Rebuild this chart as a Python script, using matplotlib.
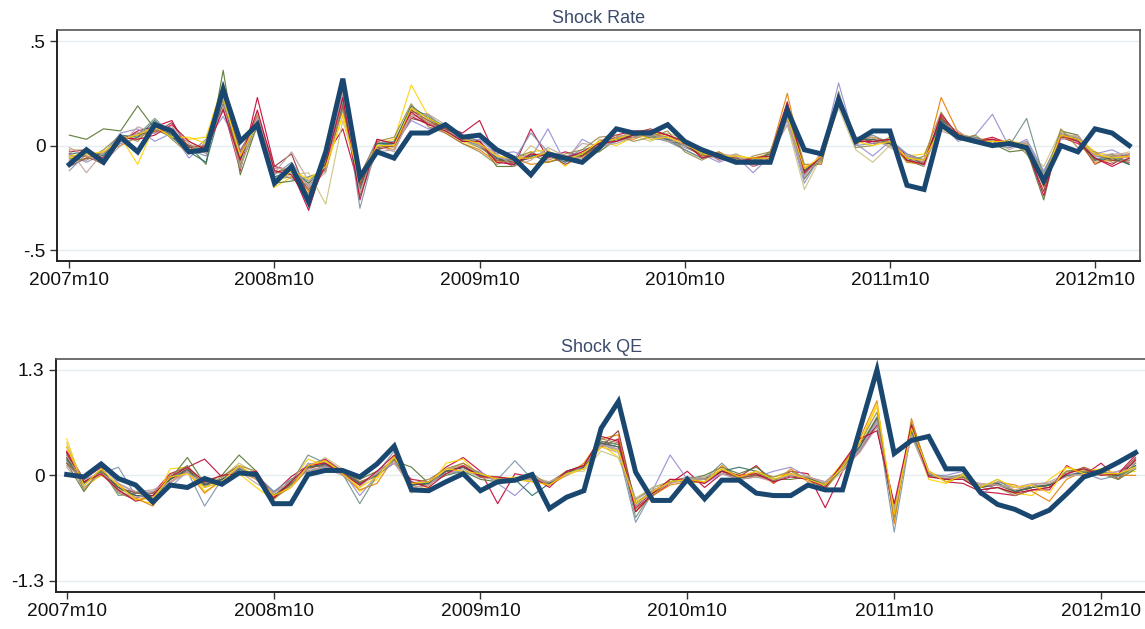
import numpy as np
import matplotlib
matplotlib.use("Agg")
import matplotlib.pyplot as plt

plt.rcParams['font.family'] = ['Liberation Sans', 'DejaVu Sans']

# monthly index, 2007m10 .. 2012m12
months = np.arange(63)
tick_pos = [0, 12, 24, 36, 48, 60]
tick_labels = ['2007m10', '2008m10', '2009m10', '2010m10', '2011m10', '2012m10']

# Stata s2color-like palette for the thin draws
thin_colors = ['#c10534', '#ffd200', '#55752f', '#e37e00', '#938dd2', '#cac27e',
               '#6e8e84', '#90353b', '#7b92a8', '#a0522d', '#2d6d66', '#bfa19c',
               '#9c8847', '#bfa19c', '#c10534', '#ffd200']

# ---- Shock Rate ----
rate_actual = [
    -0.09, -0.02, -0.08, 0.04, -0.03, 0.10, 0.07, -0.03, -0.02, 0.27,
    0.02, 0.10, -0.18, -0.10, -0.27, -0.03, 0.32, -0.15, -0.03, -0.06,
    0.06, 0.06, 0.10, 0.04, 0.05, -0.02, -0.06, -0.14, -0.04, -0.06,
    -0.08, -0.01, 0.08, 0.06, 0.06, 0.10, 0.02, -0.02, -0.05, -0.08,
    -0.08, -0.08, 0.17, -0.02, -0.04, 0.22, 0.02, 0.07, 0.07, -0.19,
    -0.21, 0.10, 0.04, 0.02, 0.00, 0.01, -0.01, -0.17, 0.00, -0.03,
    0.08, 0.06, 0.00]

rate_draws = [
    [-0.03, -0.02, -0.07, 0.02, 0.07, 0.09, 0.12, -0.03, 0.00, 0.18,
     -0.12, 0.23, -0.10, -0.12, -0.31, -0.05, 0.08, -0.21, 0.02, -0.01,
     0.14, 0.10, 0.09, 0.06, 0.12, -0.06, -0.10, 0.08, -0.06, -0.03,
     -0.05, 0.02, 0.05, 0.07, 0.07, 0.02, 0.01, -0.02, -0.07, -0.05,
     -0.10, -0.07, 0.17, -0.14, -0.04, 0.20, 0.03, 0.01, 0.03, -0.05,
     -0.07, 0.10, 0.06, 0.02, 0.04, 0.01, 0.00, -0.18, 0.04, 0.01,
     -0.06, -0.09, -0.04],
    [-0.06, -0.05, -0.04, 0.04, -0.09, 0.10, 0.05, 0.03, 0.04, 0.30,
     -0.06, 0.12, -0.20, -0.15, -0.18, -0.12, 0.15, -0.16, 0.01, 0.03,
     0.29, 0.14, 0.07, 0.02, -0.01, -0.05, -0.07, -0.03, -0.02, -0.10,
     -0.03, 0.02, 0.00, 0.04, 0.06, 0.05, 0.02, -0.03, -0.04, -0.06,
     -0.06, -0.05, 0.13, -0.10, -0.07, 0.23, 0.01, 0.03, 0.00, -0.05,
     -0.04, 0.11, 0.04, 0.02, 0.02, 0.02, 0.01, -0.14, 0.06, 0.04,
     -0.03, -0.05, -0.06],
    [0.05, 0.03, 0.08, 0.07, 0.19, 0.08, 0.04, 0.00, -0.09, 0.36,
     -0.14, 0.10, -0.18, -0.17, -0.15, -0.12, 0.20, -0.24, -0.02, 0.02,
     0.18, 0.13, 0.08, 0.05, 0.02, -0.10, -0.10, -0.04, -0.08, -0.06,
     -0.04, -0.03, 0.03, 0.05, 0.04, 0.03, -0.02, -0.06, -0.04, -0.08,
     -0.08, -0.03, 0.14, -0.16, -0.05, 0.24, 0.04, 0.02, 0.01, -0.07,
     -0.10, 0.13, 0.05, 0.04, 0.01, -0.03, -0.02, -0.26, 0.07, 0.05,
     -0.07, -0.04, -0.09],
    [-0.08, -0.06, -0.03, 0.00, 0.04, 0.07, 0.08, -0.02, 0.00, 0.25,
     -0.04, 0.15, -0.13, -0.10, -0.22, -0.08, 0.24, -0.19, 0.00, -0.02,
     0.17, 0.11, 0.06, 0.01, -0.02, -0.08, -0.06, -0.09, -0.08, -0.05,
     -0.06, 0.01, 0.04, 0.03, 0.06, 0.04, 0.00, -0.05, -0.03, -0.07,
     -0.06, -0.04, 0.25, -0.12, -0.08, 0.20, 0.02, 0.04, 0.02, -0.08,
     -0.09, 0.23, 0.06, 0.03, 0.03, 0.00, 0.01, -0.20, 0.04, 0.02,
     -0.08, -0.07, -0.05],
    [-0.04, -0.08, -0.04, 0.06, 0.08, 0.02, 0.06, -0.06, 0.02, 0.14,
     -0.02, 0.11, -0.12, -0.16, -0.19, -0.10, 0.18, -0.15, 0.03, 0.00,
     0.12, 0.08, 0.10, 0.02, 0.03, -0.04, -0.03, -0.06, 0.08, -0.08,
     0.03, -0.01, 0.02, 0.07, 0.03, 0.03, -0.01, -0.04, -0.08, -0.05,
     -0.13, -0.05, 0.12, -0.18, -0.04, 0.30, 0.01, -0.05, 0.02, -0.04,
     -0.07, 0.10, 0.02, 0.05, 0.15, -0.01, 0.03, -0.12, 0.03, 0.04,
     -0.04, -0.02, -0.06],
    [-0.02, -0.02, -0.06, 0.04, 0.03, 0.09, 0.05, 0.02, -0.03, 0.20,
     -0.08, 0.16, -0.15, -0.14, -0.13, -0.28, 0.12, -0.17, 0.01, -0.01,
     0.15, 0.12, 0.07, 0.04, 0.01, -0.05, -0.09, 0.00, -0.05, -0.07,
     -0.08, 0.03, 0.02, 0.05, 0.02, 0.06, 0.03, -0.03, -0.06, -0.04,
     -0.07, -0.04, 0.10, -0.21, -0.05, 0.18, -0.02, -0.08, 0.00, -0.06,
     -0.06, 0.08, 0.04, 0.01, 0.01, 0.02, -0.03, -0.10, 0.07, 0.02,
     -0.05, -0.05, -0.03],
    [-0.07, -0.03, -0.05, 0.02, 0.05, 0.13, 0.05, 0.00, -0.02, 0.22,
     -0.10, 0.12, -0.16, -0.13, -0.17, -0.10, 0.22, -0.20, 0.00, 0.01,
     0.18, 0.14, 0.09, 0.03, 0.00, -0.07, -0.07, -0.05, -0.03, -0.05,
     -0.04, 0.00, 0.02, 0.04, 0.05, 0.04, 0.00, -0.04, -0.05, -0.06,
     -0.08, -0.06, 0.15, -0.13, -0.07, 0.22, 0.02, 0.05, 0.01, -0.06,
     -0.08, 0.12, 0.05, 0.03, 0.02, 0.00, 0.13, -0.15, 0.06, 0.03,
     -0.05, -0.06, -0.07],
    [-0.10, -0.06, -0.07, 0.03, 0.06, 0.06, 0.11, -0.01, 0.00, 0.20,
     -0.05, 0.14, -0.10, -0.04, -0.25, -0.06, 0.28, -0.18, -0.02, 0.00,
     0.13, 0.11, 0.08, 0.02, 0.02, -0.06, -0.08, -0.06, -0.04, -0.09,
     -0.05, 0.01, 0.04, 0.06, 0.08, 0.05, 0.01, -0.04, -0.06, -0.07,
     -0.09, -0.06, 0.18, -0.11, -0.06, 0.21, 0.01, 0.03, 0.02, -0.07,
     -0.08, 0.14, 0.04, 0.02, 0.03, 0.01, -0.02, -0.22, 0.05, 0.03,
     -0.04, -0.07, -0.08],
    [-0.12, -0.04, -0.04, 0.01, 0.04, 0.10, 0.07, -0.02, -0.05, 0.23,
     -0.07, 0.13, -0.14, -0.08, -0.20, -0.09, 0.25, -0.30, 0.01, 0.02,
     0.16, 0.15, 0.07, 0.03, -0.01, -0.06, -0.07, 0.06, -0.03, -0.06,
     -0.02, 0.00, 0.03, 0.06, 0.04, 0.02, -0.02, -0.06, -0.05, -0.06,
     -0.07, -0.06, 0.14, -0.14, -0.05, 0.23, 0.00, 0.01, 0.03, -0.04,
     -0.07, 0.11, 0.03, 0.04, 0.00, -0.01, 0.02, -0.13, 0.05, 0.02,
     -0.06, -0.06, -0.04],
    [-0.05, -0.05, -0.09, 0.03, 0.05, 0.07, 0.06, 0.00, -0.01, 0.24,
     -0.03, 0.12, -0.13, -0.11, -0.21, -0.11, 0.19, -0.19, -0.01, 0.00,
     0.17, 0.12, 0.08, 0.04, 0.00, -0.07, -0.08, -0.05, -0.04, -0.07,
     -0.05, 0.00, 0.03, 0.04, 0.05, 0.04, 0.00, -0.05, -0.05, -0.06,
     -0.08, -0.05, 0.16, -0.12, -0.06, 0.21, 0.02, 0.02, 0.01, -0.06,
     -0.08, 0.13, 0.05, 0.03, 0.02, 0.00, 0.00, -0.16, 0.04, 0.03,
     -0.09, -0.05, -0.05],
    [-0.04, -0.03, -0.05, 0.05, 0.04, 0.12, 0.04, -0.03, -0.08, 0.21,
     -0.06, 0.12, -0.15, -0.12, -0.18, -0.09, 0.21, -0.21, 0.01, 0.01,
     0.19, 0.13, 0.09, 0.04, 0.01, -0.06, -0.09, -0.05, -0.04, -0.08,
     -0.04, 0.01, 0.03, 0.05, 0.05, 0.03, 0.00, -0.04, -0.05, -0.07,
     -0.07, -0.04, 0.15, -0.12, -0.06, 0.23, 0.03, 0.03, 0.01, -0.06,
     -0.09, 0.12, 0.05, 0.03, 0.02, 0.00, 0.00, -0.15, 0.05, 0.03,
     -0.07, -0.06, -0.09],
    [-0.02, -0.13, -0.03, 0.02, 0.06, 0.08, 0.06, -0.03, 0.01, 0.21,
     -0.04, 0.13, -0.13, -0.03, -0.17, -0.12, 0.22, -0.22, 0.00, -0.03,
     0.15, 0.11, 0.07, 0.04, 0.00, -0.05, -0.07, -0.04, -0.05, -0.06,
     0.01, 0.00, 0.01, 0.04, 0.05, 0.04, 0.00, -0.03, -0.04, -0.05,
     -0.10, -0.05, 0.10, -0.13, -0.06, 0.20, 0.02, 0.02, 0.00, -0.05,
     -0.08, 0.07, 0.04, 0.03, 0.02, 0.00, 0.01, -0.15, 0.06, 0.04,
     -0.05, -0.04, -0.04],
    [-0.06, -0.07, -0.02, 0.05, 0.02, 0.11, 0.03, -0.04, 0.03, 0.26,
     -0.09, 0.09, -0.16, -0.15, -0.23, -0.07, 0.17, -0.14, 0.02, 0.04,
     0.20, 0.09, 0.06, 0.01, -0.03, -0.09, -0.06, -0.03, -0.07, -0.04,
     -0.02, 0.04, 0.05, 0.02, 0.04, 0.07, -0.03, -0.07, -0.03, -0.09,
     -0.05, -0.03, 0.20, -0.09, -0.09, 0.26, -0.01, 0.00, 0.04, -0.08,
     -0.05, 0.16, 0.03, 0.05, -0.01, 0.03, -0.04, -0.18, 0.08, -0.01,
     -0.03, -0.08, -0.07],
    [-0.01, -0.05, -0.08, 0.00, 0.09, 0.06, 0.09, 0.01, -0.04, 0.19,
     -0.11, 0.14, -0.11, -0.11, -0.19, -0.13, 0.26, -0.23, -0.03, -0.02,
     0.14, 0.15, 0.10, 0.05, 0.01, -0.04, -0.10, -0.07, -0.01, -0.05,
     -0.06, -0.02, 0.04, 0.06, 0.06, 0.02, 0.02, -0.02, -0.07, -0.04,
     -0.09, -0.08, 0.13, -0.15, -0.03, 0.19, 0.04, 0.04, -0.01, -0.05,
     -0.10, 0.11, 0.07, 0.01, 0.03, -0.02, 0.02, -0.17, 0.03, 0.05,
     -0.05, -0.05, -0.06],
    [-0.08, -0.03, -0.06, 0.04, 0.03, 0.05, 0.10, 0.02, -0.02, 0.17,
     -0.07, 0.17, -0.12, -0.14, -0.27, -0.09, 0.23, -0.26, 0.03, 0.01,
     0.16, 0.10, 0.07, 0.02, 0.02, -0.08, -0.09, -0.04, -0.05, -0.06,
     -0.03, 0.01, 0.02, 0.05, 0.07, 0.05, 0.02, -0.06, -0.04, -0.08,
     -0.06, -0.05, 0.21, -0.13, -0.05, 0.24, 0.02, 0.02, 0.03, -0.07,
     -0.09, 0.15, 0.05, 0.02, 0.03, 0.01, -0.01, -0.24, 0.05, 0.02,
     -0.06, -0.10, -0.06],
    [-0.05, -0.04, -0.03, 0.03, 0.05, 0.09, 0.04, 0.04, 0.01, 0.23,
     -0.05, 0.11, -0.19, -0.12, -0.16, -0.10, 0.14, -0.17, 0.00, 0.00,
     0.18, 0.13, 0.09, 0.03, 0.01, -0.05, -0.06, -0.06, -0.03, -0.07,
     -0.04, 0.02, 0.03, 0.06, 0.03, 0.04, 0.01, -0.04, -0.05, -0.05,
     -0.06, -0.06, 0.14, -0.11, -0.05, 0.21, 0.02, 0.00, 0.02, -0.06,
     -0.07, 0.09, 0.03, 0.02, 0.02, 0.02, 0.00, -0.16, 0.05, 0.03,
     -0.04, -0.06, -0.05],
]

# ---- Shock QE ----
qe_actual = [
    0.01, -0.02, 0.14, -0.04, -0.12, -0.33, -0.12, -0.15, -0.04, -0.11,
    0.03, 0.01, -0.35, -0.35, 0.01, 0.06, 0.06, -0.02, 0.14, 0.36,
    -0.18, -0.19, -0.08, 0.02, -0.19, -0.08, -0.06, 0.01, -0.41, -0.27,
    -0.19, 0.58, 0.91, 0.04, -0.31, -0.31, -0.05, -0.29, -0.06, -0.06,
    -0.22, -0.25, -0.25, -0.12, -0.18, -0.18, 0.56, 1.30, 0.27, 0.43,
    0.48, 0.08, 0.08, -0.21, -0.36, -0.42, -0.52, -0.43, -0.23, -0.02,
    0.05, 0.16, 0.28]

qe_draws = [
    [0.30, -0.05, 0.10, -0.20, -0.28, -0.22, 0.02, 0.10, 0.20, -0.02,
     0.12, -0.05, -0.22, -0.02, 0.12, 0.20, 0.05, -0.12, 0.02, 0.15,
     -0.05, -0.08, 0.10, 0.22, 0.05, -0.35, 0.02, -0.02, -0.12, 0.02,
     0.12, 0.35, 0.45, -0.40, -0.25, -0.10, 0.05, -0.15, 0.02, -0.02,
     0.12, -0.10, 0.05, 0.02, -0.40, 0.05, 0.30, 0.62, -0.50, 0.60,
     0.05, -0.08, -0.10, -0.20, -0.22, -0.25, -0.18, -0.18, 0.12, 0.00,
     0.15, -0.05, 0.20],
    [0.45, -0.15, 0.00, -0.10, -0.30, -0.35, 0.08, 0.10, -0.20, -0.08,
     0.02, -0.15, -0.30, -0.08, 0.20, 0.12, 0.05, -0.20, -0.05, 0.25,
     -0.18, -0.15, 0.15, 0.20, -0.02, -0.05, -0.02, -0.08, -0.08, 0.00,
     0.08, 0.38, 0.22, -0.32, -0.22, -0.05, -0.10, -0.08, 0.05, 0.00,
     0.02, -0.02, 0.02, -0.05, -0.10, 0.15, 0.40, 0.85, -0.55, 0.55,
     -0.05, -0.10, 0.00, -0.12, -0.10, -0.22, -0.25, -0.05, 0.10, 0.05,
     0.08, 0.02, 0.05],
    [0.15, -0.20, 0.08, -0.18, -0.20, -0.30, -0.05, 0.22, -0.10, 0.00,
     0.25, 0.05, -0.28, -0.05, 0.05, 0.10, 0.02, -0.05, 0.05, 0.18,
     0.10, -0.10, 0.00, 0.05, -0.05, -0.08, -0.05, -0.05, -0.10, 0.05,
     0.12, 0.42, 0.38, -0.30, -0.15, -0.08, -0.05, 0.00, 0.10, 0.02,
     0.10, -0.05, -0.05, -0.02, -0.15, 0.08, 0.35, 0.70, -0.42, 0.50,
     0.02, -0.05, -0.05, -0.18, -0.15, -0.22, -0.12, -0.15, 0.05, 0.08,
     0.02, -0.05, 0.08],
    [0.35, -0.08, 0.00, -0.12, -0.28, -0.38, -0.08, 0.05, -0.22, -0.05,
     0.05, -0.05, -0.28, -0.15, 0.08, 0.18, 0.00, -0.18, -0.10, 0.22,
     -0.15, -0.12, 0.05, 0.15, 0.00, -0.02, -0.05, -0.05, -0.12, 0.00,
     0.15, 0.45, 0.50, -0.45, -0.25, -0.12, -0.08, -0.08, 0.12, -0.05,
     0.05, -0.10, 0.08, -0.08, -0.10, 0.12, 0.45, 0.92, -0.60, 0.70,
     0.00, -0.05, 0.02, -0.15, -0.08, -0.12, -0.20, -0.32, -0.05, 0.05,
     0.05, 0.00, 0.00],
    [0.25, -0.05, 0.12, -0.10, -0.22, -0.20, -0.15, 0.05, -0.10, -0.10,
     0.10, 0.00, -0.20, -0.15, 0.15, 0.10, 0.05, -0.25, 0.00, 0.15,
     -0.08, -0.12, 0.05, 0.05, 0.05, -0.10, -0.25, -0.05, -0.10, 0.05,
     0.08, 0.40, 0.32, -0.35, -0.18, 0.25, -0.05, -0.10, 0.02, -0.05,
     -0.02, 0.05, 0.10, -0.02, -0.08, 0.10, 0.30, 0.65, -0.40, 0.52,
     0.00, 0.00, 0.05, -0.25, -0.08, -0.15, -0.12, -0.12, 0.00, 0.02,
     0.00, 0.05, 0.15],
    [0.40, -0.12, 0.05, -0.18, -0.25, -0.30, -0.02, 0.08, -0.05, -0.02,
     0.15, 0.02, -0.25, -0.12, 0.10, 0.22, 0.08, -0.10, 0.00, 0.22,
     -0.22, -0.10, 0.05, 0.12, 0.02, -0.05, -0.08, -0.02, -0.08, 0.05,
     0.05, 0.30, 0.22, -0.28, -0.15, -0.08, -0.08, -0.02, 0.05, -0.02,
     -0.02, -0.05, 0.00, 0.00, -0.15, 0.05, 0.38, 0.72, -0.45, 0.55,
     0.05, -0.05, 0.02, -0.12, -0.10, -0.18, -0.15, -0.10, 0.00, 0.00,
     0.00, 0.00, 0.10],
    [0.18, -0.12, 0.08, -0.25, -0.22, -0.22, -0.05, 0.12, -0.12, -0.05,
     0.10, 0.00, -0.20, -0.10, 0.25, 0.15, 0.02, -0.35, 0.00, 0.18,
     -0.12, -0.08, 0.05, 0.10, 0.02, -0.05, -0.05, -0.05, -0.10, 0.03,
     0.10, 0.42, 0.38, -0.52, -0.20, -0.08, -0.02, -0.05, 0.15, -0.05,
     0.02, -0.08, 0.02, -0.05, -0.12, 0.12, 0.32, 0.72, -0.48, 0.58,
     0.02, -0.02, 0.00, -0.15, -0.05, -0.20, -0.15, -0.12, 0.00, 0.05,
     0.05, -0.02, 0.10],
    [0.22, -0.10, 0.05, -0.15, -0.25, -0.25, -0.05, 0.08, -0.12, -0.05,
     0.08, 0.00, -0.28, -0.10, 0.10, 0.12, 0.05, -0.10, 0.00, 0.20,
     -0.12, -0.10, 0.05, 0.10, 0.00, -0.05, -0.05, -0.05, -0.10, 0.05,
     0.10, 0.35, 0.55, -0.38, -0.22, -0.08, -0.06, -0.05, 0.05, -0.03,
     0.00, -0.05, 0.00, -0.03, -0.12, 0.10, 0.40, 0.60, -0.48, 0.58,
     0.00, -0.05, -0.02, -0.15, -0.12, -0.20, -0.15, -0.12, 0.00, 0.03,
     0.02, 0.00, 0.18],
    [0.25, -0.05, 0.02, 0.10, -0.25, -0.28, -0.02, 0.05, -0.38, -0.05,
     0.08, 0.00, -0.20, -0.05, 0.05, 0.12, 0.02, -0.12, 0.02, 0.30,
     -0.10, -0.10, 0.02, 0.05, 0.00, -0.05, 0.18, -0.05, -0.10, 0.02,
     0.10, 0.38, 0.30, -0.58, -0.20, -0.08, -0.06, -0.05, 0.05, -0.03,
     0.00, -0.05, 0.00, -0.03, -0.12, 0.10, 0.32, 0.68, -0.70, 0.55,
     0.00, -0.05, -0.02, -0.15, -0.10, -0.20, -0.15, -0.12, 0.00, 0.03,
     -0.05, 0.00, 0.12],
    [0.15, -0.08, 0.05, -0.15, -0.22, -0.22, -0.05, 0.05, -0.10, -0.05,
     0.05, -0.02, -0.25, -0.12, 0.08, 0.14, 0.05, -0.08, 0.00, 0.20,
     -0.12, -0.10, 0.05, 0.10, 0.00, -0.05, -0.05, -0.05, -0.10, 0.03,
     0.10, 0.40, 0.35, -0.35, -0.20, -0.08, -0.06, -0.05, 0.05, -0.03,
     0.00, -0.06, 0.00, -0.03, -0.12, 0.10, 0.35, 0.70, -0.45, 0.62,
     0.00, -0.05, -0.02, -0.15, -0.10, -0.20, -0.15, -0.12, 0.02, 0.10,
     0.02, 0.00, 0.22],
    [0.20, -0.10, 0.05, -0.15, -0.25, -0.25, -0.05, 0.07, -0.12, -0.05,
     0.08, 0.00, -0.25, -0.10, 0.10, 0.14, 0.03, -0.10, 0.00, 0.20,
     -0.12, -0.10, 0.05, 0.10, 0.00, -0.05, -0.05, -0.25, -0.10, 0.03,
     0.10, 0.40, 0.35, -0.35, -0.20, -0.08, -0.06, -0.05, 0.05, 0.10,
     0.05, -0.06, 0.00, -0.03, -0.12, 0.10, 0.35, 0.70, -0.45, 0.55,
     0.00, -0.05, -0.02, -0.15, -0.10, -0.20, -0.15, -0.12, 0.00, 0.03,
     0.02, 0.00, 0.12],
    [0.10, -0.15, 0.02, -0.20, -0.28, -0.20, -0.10, 0.05, -0.15, -0.08,
     0.10, -0.05, -0.22, -0.08, 0.05, 0.10, 0.02, -0.12, 0.02, 0.18,
     -0.15, -0.12, 0.08, 0.12, 0.02, -0.08, -0.05, -0.05, -0.08, 0.00,
     0.12, 0.38, 0.32, -0.38, -0.18, -0.10, -0.05, -0.02, 0.02, -0.05,
     -0.02, -0.08, 0.02, -0.02, -0.10, 0.08, 0.32, 0.68, -0.42, 0.50,
     0.02, -0.05, 0.00, -0.12, -0.12, -0.18, -0.12, -0.08, 0.02, 0.00,
     0.05, 0.02, 0.10],
    [0.28, -0.18, 0.06, -0.22, -0.30, -0.28, 0.00, 0.12, -0.15, -0.02,
     0.12, 0.05, -0.30, -0.12, 0.12, 0.18, 0.05, -0.08, -0.02, 0.22,
     -0.10, -0.05, 0.08, 0.15, 0.02, -0.05, -0.08, 0.02, -0.12, 0.05,
     0.12, 0.45, 0.40, -0.42, -0.25, -0.05, -0.08, -0.08, 0.08, -0.02,
     0.05, -0.02, 0.05, -0.05, -0.18, 0.12, 0.40, 0.78, -0.52, 0.65,
     0.05, -0.08, -0.02, -0.18, -0.15, -0.25, -0.18, -0.15, 0.05, 0.05,
     0.05, -0.05, 0.15],
    [0.12, -0.05, 0.02, -0.10, -0.20, -0.18, -0.08, 0.02, -0.08, -0.08,
     0.05, -0.10, -0.22, -0.08, 0.08, 0.08, 0.00, -0.15, 0.05, 0.15,
     -0.15, -0.12, 0.02, 0.08, -0.03, -0.05, -0.05, -0.08, -0.08, 0.02,
     0.08, 0.35, 0.28, -0.30, -0.18, -0.10, -0.05, -0.05, 0.02, -0.05,
     -0.02, -0.05, 0.00, -0.02, -0.08, 0.08, 0.28, 0.60, -0.38, 0.48,
     -0.02, -0.02, -0.05, -0.10, -0.12, -0.15, -0.10, -0.10, -0.02, 0.02,
     0.00, 0.05, 0.08],
    [0.28, -0.08, 0.02, -0.18, -0.32, -0.25, -0.02, 0.10, -0.08, 0.00,
     0.02, 0.05, -0.28, -0.08, 0.12, 0.15, 0.02, -0.12, 0.05, 0.25,
     -0.08, -0.15, 0.02, 0.12, -0.02, -0.02, -0.05, -0.02, -0.15, 0.05,
     0.12, 0.48, 0.42, -0.45, -0.22, -0.05, -0.05, -0.10, 0.05, 0.00,
     0.02, -0.08, -0.02, -0.05, -0.15, 0.15, 0.45, 0.55, -0.35, 0.62,
     -0.02, -0.05, -0.05, -0.18, -0.15, -0.22, -0.18, -0.15, 0.02, 0.08,
     0.00, 0.02, 0.25],
    [0.35, -0.12, 0.08, -0.12, -0.30, -0.28, -0.02, 0.02, -0.15, -0.08,
     0.12, -0.02, -0.25, -0.15, 0.12, 0.18, 0.02, -0.15, -0.02, 0.22,
     -0.10, -0.08, 0.08, 0.05, 0.02, -0.05, -0.05, -0.08, -0.12, 0.02,
     0.08, 0.35, 0.30, -0.35, -0.20, -0.08, -0.05, -0.08, 0.08, -0.02,
     0.05, -0.05, 0.02, -0.05, -0.12, 0.10, 0.40, 0.88, -0.48, 0.58,
     0.05, -0.08, 0.00, -0.15, -0.05, -0.15, -0.12, -0.22, 0.10, 0.02,
     0.02, 0.02, 0.10],
]

panels = [
    dict(title='Shock Rate', actual=rate_actual, draws=rate_draws,
         yticks=[-0.5, 0, 0.5], ylabels=['-.5', '0', '.5'],
         rect=[0.0495, 0.5855, 0.9461, 0.3668], xlim=(-0.74, 62.63), ylim=(-0.551, 0.553)),
    dict(title='Shock QE', actual=qe_actual, draws=qe_draws,
         yticks=[-1.3, 0, 1.3], ylabels=['-1.3', '0', '1.3'],
         rect=[0.0486, 0.0583, 0.9531, 0.3704], xlim=(-0.64, 62.66), ylim=(-1.444, 1.431)),
]

fig = plt.figure(figsize=(11.45, 6.29), dpi=100)
fig.patch.set_facecolor('white')

for p in panels:
    ax = fig.add_axes(p['rect'])
    for y in p['yticks']:
        ax.axhline(y, color='#e4edf0', lw=1.0, zorder=0)
    for k, d in enumerate(p['draws']):
        ax.plot(months, d, color=thin_colors[k % len(thin_colors)], lw=0.85, alpha=0.9, zorder=2)
    ax.plot(months, p['actual'], color='#1a476f', lw=3.6, solid_joinstyle='miter', zorder=3)

    ax.set_xlim(*p['xlim'])
    ax.set_ylim(*p['ylim'])
    ax.set_xticks(tick_pos)
    ax.set_xticklabels(tick_labels, fontsize=13.8)
    ax.set_yticks(p['yticks'])
    ax.set_yticklabels(p['ylabels'], fontsize=13.8)
    ax.tick_params(direction='out', length=5, width=1.0, color='#333333', labelcolor='#111111', pad=3)
    ax.set_title(p['title'], fontsize=13, color='#3c4b6b', pad=5)
    for side in ['left', 'bottom']:
        ax.spines[side].set_color('#222222')
        ax.spines[side].set_linewidth(1.4)
    for side in ['top', 'right']:
        ax.spines[side].set_color('#555555')
        ax.spines[side].set_linewidth(1.2)

fig.savefig('out.png', dpi=100, facecolor='white')
